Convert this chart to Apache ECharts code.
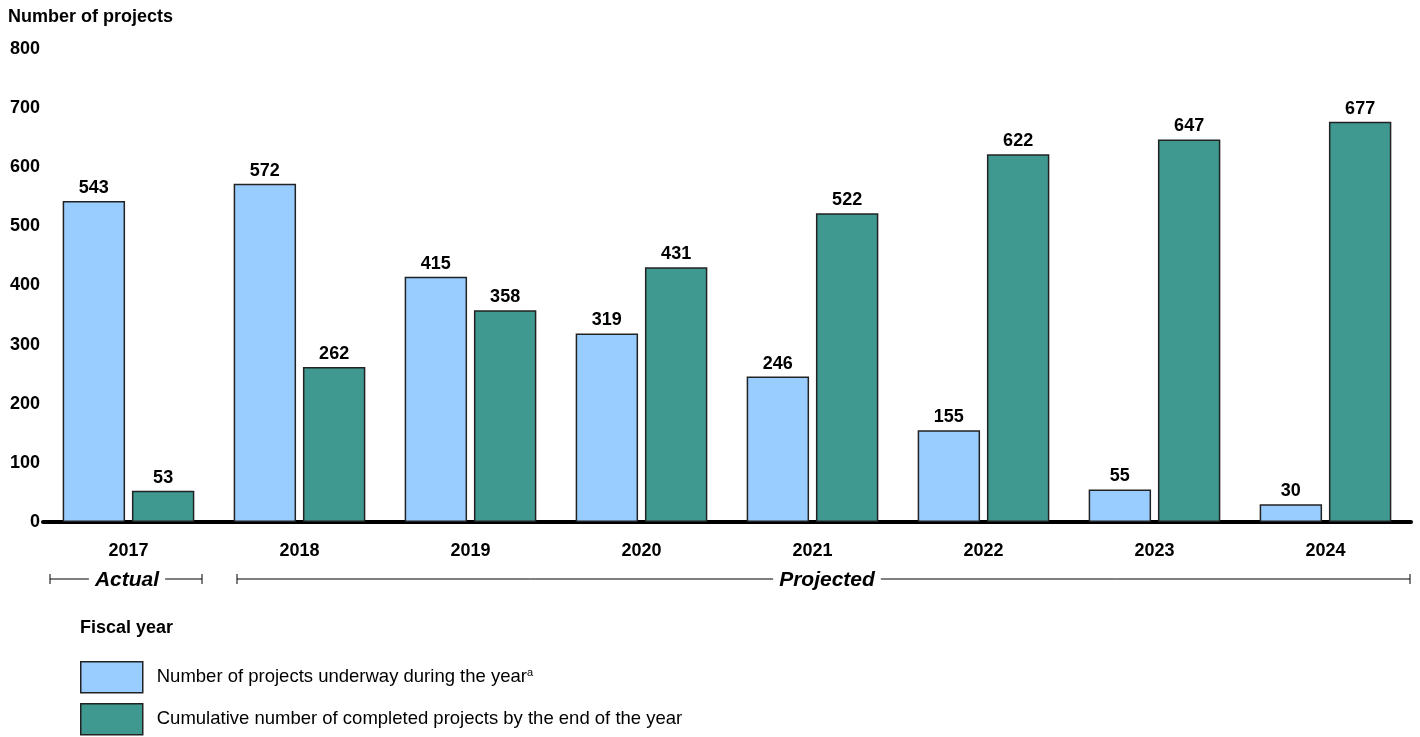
<!DOCTYPE html>
<html>
<head>
<meta charset="utf-8">
<script src="https://cdn.jsdelivr.net/npm/echarts@6/dist/echarts.min.js"></script>
<style>
  html, body { margin: 0; padding: 0; background: #fff; }
  #chart { width: 1420px; height: 737px; }
</style>
</head>
<body>
<div id="chart"></div>
<script>
// fiscal years and the two series
const years = ['2017', '2018', '2019', '2020', '2021', '2022', '2023', '2024'];
const underway = [543, 572, 415, 319, 246, 155, 55, 30];
const completed = [53, 262, 358, 431, 522, 622, 647, 677];
const yTicks = [0, 100, 200, 300, 400, 500, 600, 700, 800];

const FONT = '"Liberation Sans", Arial, sans-serif';
const chart = echarts.init(document.getElementById('chart'));

// bracket helper for the Actual / Projected line under the axis
function bracket(x1, x2, y, label, labelX) {
    return [
        {type: 'line', shape: {x1: x1, y1: y, x2: x2, y2: y}, style: {stroke: '#000', lineWidth: 1}},
        {type: 'line', shape: {x1: x1, y1: y - 5, x2: x1, y2: y + 5}, style: {stroke: '#000', lineWidth: 1}},
        {type: 'line', shape: {x1: x2, y1: y - 5, x2: x2, y2: y + 5}, style: {stroke: '#000', lineWidth: 1}},
        {
            type: 'text', x: labelX, y: y + 1, z: 10,
            style: {
                text: label, font: 'italic bold 21px ' + FONT, fill: '#000',
                align: 'center', verticalAlign: 'middle',
                backgroundColor: '#fff', padding: [0, 6]
            }
        }
    ];
}

// one legend box per row
function legendRow(name, top) {
    return {
        data: [name],
        left: 80,
        top: top,
        padding: 0,
        itemWidth: 62,
        itemHeight: 31,
        icon: 'rect',
        itemStyle: {borderColor: '#222', borderWidth: 1.5},
        textStyle: {
            fontSize: 18.5, color: '#000', padding: [0, 0, 0, 9],
            rich: {sup: {fontSize: 11, verticalAlign: 'top', padding: [0, 0, 9, 0]}}
        },
        formatter: function (n) {
            return n === 'underway' ? 'Number of projects underway during the year{sup|a}'
                : 'Cumulative number of completed projects by the end of the year';
        }
    };
}

chart.setOption({
    animation: false,
    textStyle: {fontFamily: FONT},
    grid: {left: 43, right: 9, top: 49, bottom: 215},
    xAxis: {
        type: 'category',
        data: years,
        axisLine: {lineStyle: {color: '#000', width: 4}},
        axisTick: {show: false},
        axisLabel: {color: '#000', fontWeight: 'bold', fontSize: 18, margin: 20}
    },
    yAxis: {
        type: 'value',
        min: yTicks[0],
        max: yTicks[yTicks.length - 1],
        interval: 100,
        splitLine: {show: false},
        axisLine: {show: false},
        axisTick: {show: false},
        axisLabel: {color: '#000', fontWeight: 'bold', fontSize: 18, margin: 3}
    },
    legend: [legendRow('underway', 661), legendRow('completed', 703)],
    graphic: [
        {
            type: 'text', left: 8, top: 8,
            style: {text: 'Number of projects', font: 'bold 18px ' + FONT, fill: '#000'}
        },
        {
            type: 'text', left: 80, top: 619,
            style: {text: 'Fiscal year', font: 'bold 18px ' + FONT, fill: '#000'}
        }
    ].concat(bracket(50, 202, 579, 'Actual', 127), bracket(237, 1410, 579, 'Projected', 827)),
    series: [
        {
            name: 'underway',
            type: 'bar',
            data: underway,
            barGap: '11%',
            barCategoryGap: '23%',
            itemStyle: {color: '#99CCFF', borderColor: '#222', borderWidth: 1.5},
            label: {show: true, position: 'top', color: '#000', fontWeight: 'bold', fontSize: 18, distance: 4}
        },
        {
            name: 'completed',
            type: 'bar',
            data: completed,
            itemStyle: {color: '#3F9990', borderColor: '#222', borderWidth: 1.5},
            label: {show: true, position: 'top', color: '#000', fontWeight: 'bold', fontSize: 18, distance: 4}
        }
    ]
});
</script>
</body>
</html>
